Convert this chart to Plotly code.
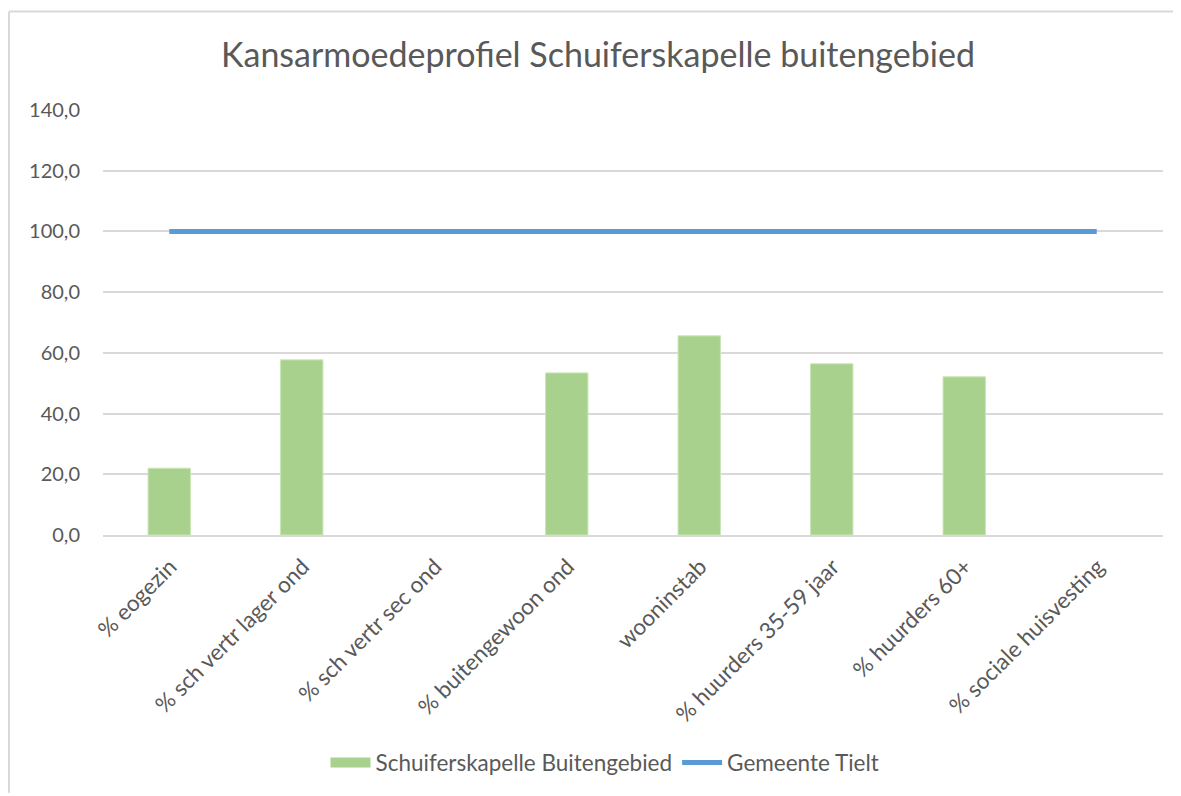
import plotly.graph_objects as go

categories = ["% eogezin", "% sch vertr lager ond", "% sch vertr sec ond", "% buitengewoon ond",
              "wooninstab", "% huurders 35-59 jaar", "% huurders 60+", "% sociale huisvesting"]
wijk_values = [22.0, 57.7, None, 53.4, 65.6, 56.4, 52.1, None]
gemeente_values = [100, 100, 100, 100, 100, 100, 100, 100]
y_ticks = [0, 20, 40, 60, 80, 100, 120, 140]
y_tick_labels = ["0,0", "20,0", "40,0", "60,0", "80,0", "100,0", "120,0", "140,0"]

OFF = 8  # page body margin
W, H = 1181 - OFF, 796 - OFF
ml, mt = 103 - OFF, 110 - OFF
pw = 1163 - 103
ph = 537 - 110
mr = W - ml - pw
mb = H - mt - ph

GREEN = "#a9d18e"
BLUE = "#5b9bd5"

fig = go.Figure()
fig.add_trace(go.Bar(x=categories, y=wijk_values, name="Schuiferskapelle Buitengebied",
                     marker=dict(color=GREEN, line=dict(color="#c9e6b5", width=1)),
                     showlegend=False, legendgroup="w"))
fig.add_trace(go.Scatter(x=[None], y=[None], name="Schuiferskapelle Buitengebied", mode="lines",
                         line=dict(color=GREEN, width=12), legendgroup="w", hoverinfo="skip"))
fig.add_trace(go.Scatter(x=categories, y=gemeente_values, name="Gemeente Tielt", mode="lines",
                         line=dict(color=BLUE, width=5)))

def py(page_y):
    return 1 - (page_y - OFF - mt) / ph

def px(page_x):
    return (page_x - OFF - ml) / pw

fig.update_layout(
    width=W, height=H,
    margin=dict(l=ml, r=mr, t=mt, b=mb),
    paper_bgcolor="white", plot_bgcolor="white",
    font=dict(family="Lato, Open Sans, sans-serif", color="#595959", size=20),
    title=dict(text="Kansarmoedeprofiel Schuiferskapelle buitengebied", x=0.503, xanchor="center",
               y=1 - (55 - OFF) / H, yanchor="middle", font=dict(size=34, color="#595959")),
    bargap=0.68,
    showlegend=True,
    legend=dict(orientation="h", x=px(605), xanchor="center", y=py(766), yanchor="middle",
                font=dict(size=22.5, color="#595959"), traceorder="normal", itemwidth=40,
                tracegroupgap=0),
    xaxis=dict(tickangle=-45, showgrid=False, showline=True, linecolor="#d9d9d9", linewidth=1.5,
               ticks="", tickfont=dict(size=22.5), ticklabelshift=1, ticklabelstandoff=8),
    yaxis=dict(range=[0, 140], tickvals=y_ticks, ticktext=y_tick_labels, showgrid=True,
               gridcolor="#d9d9d9", gridwidth=1.5, zeroline=False, ticks="", ticklen=0,
               tickfont=dict(size=20), ticklabelstandoff=22),
)

# outer chart border (top and left edges visible)
border = dict(color="#d9d9d9", width=2)
fig.add_shape(type="line", xref="paper", yref="paper", x0=px(9), x1=px(1181), y0=py(11), y1=py(11),
              line=border, layer="below")
fig.add_shape(type="line", xref="paper", yref="paper", x0=px(9), x1=px(9), y0=py(11), y1=py(796),
              line=border, layer="below")

fig.write_html("out.html")
